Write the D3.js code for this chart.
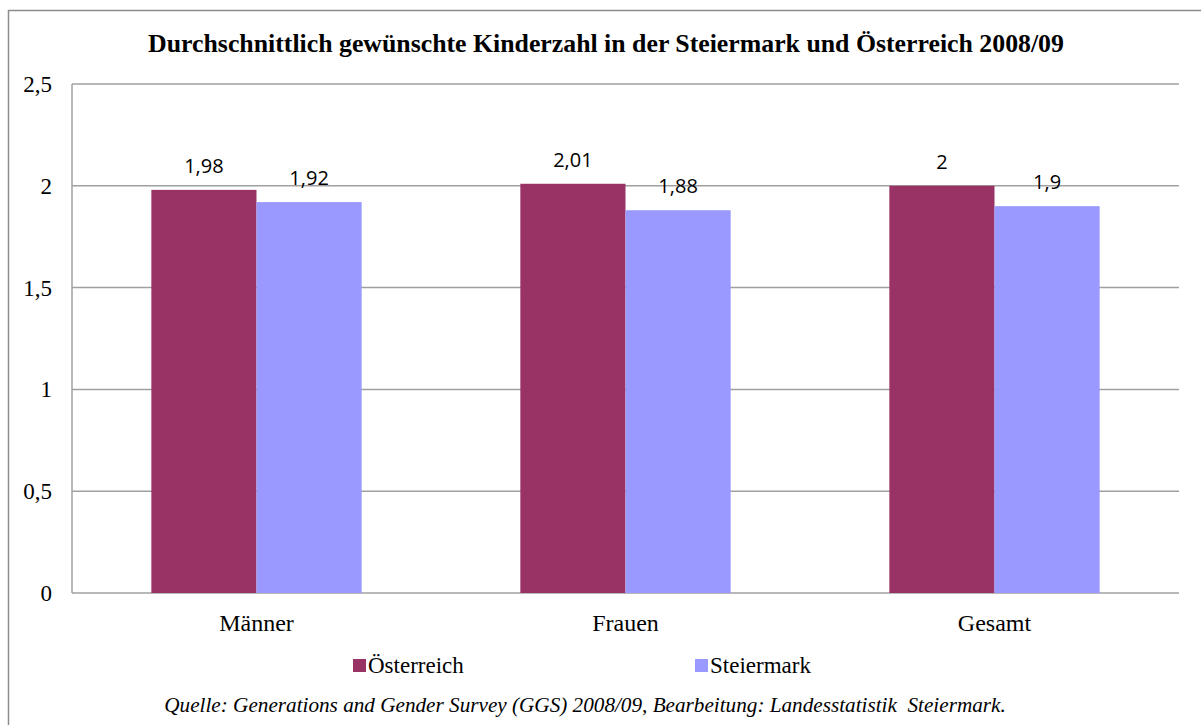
<!DOCTYPE html>
<html>
<head>
<meta charset="utf-8">
<script src="https://cdn.jsdelivr.net/npm/d3@7"></script>
<style>
  body { margin: 0; background: #fff; }
</style>
</head>
<body>
<div id="chart"></div>
<script>
// data
const categories = ["Männer", "Frauen", "Gesamt"];
const seriesNames = ["Österreich", "Steiermark"];
const oesterreich = [1.98, 2.01, 2];
const steiermark = [1.92, 1.88, 1.9];
const yTicks = [0, 0.5, 1, 1.5, 2, 2.5];
const colors = ["#993366", "#9999ff"];

const W = 1201, H = 725;
const margin = { top: 84, right: 22, bottom: 132, left: 72 },
  width = W - margin.left - margin.right,
  height = H - margin.top - margin.bottom;

const serif = "'Liberation Serif', 'Times New Roman', serif";
const fmt = v => String(v).replace(".", ",");

const svg = d3.select("#chart")
  .append("svg")
  .attr("width", W)
  .attr("height", H);

// outer frame
svg.append("rect")
  .attr("x", 8.5).attr("y", 10.5)
  .attr("width", W).attr("height", H)
  .attr("fill", "none")
  .attr("stroke", "#8c8c8c")
  .attr("stroke-width", 1.5);

svg.append("text")
  .attr("x", 606)
  .attr("y", 52)
  .attr("text-anchor", "middle")
  .style("font-family", serif)
  .style("font-weight", "bold")
  .style("font-size", "25.8px")
  .text("Durchschnittlich gewünschte Kinderzahl in der Steiermark und Österreich 2008/09");

const g = svg.append("g")
  .attr("transform", "translate(" + margin.left + "," + margin.top + ")");

const x0 = d3.scaleBand()
  .domain(categories)
  .range([0, width])
  .paddingInner(0.43)
  .paddingOuter(0.215);

const x1 = d3.scaleBand()
  .domain(seriesNames)
  .range([0, x0.bandwidth()]);

const y = d3.scaleLinear()
  .domain([0, 2.5])
  .range([height, 0]);

// gridlines
g.selectAll(".grid")
  .data(yTicks)
  .join("line")
  .attr("class", "grid")
  .attr("x1", 0)
  .attr("x2", width)
  .attr("y1", d => y(d))
  .attr("y2", d => y(d))
  .attr("stroke", "#a0a0a0")
  .attr("stroke-width", 1.5);

// y axis line
g.append("line")
  .attr("x1", 0).attr("x2", 0)
  .attr("y1", 0).attr("y2", height)
  .attr("stroke", "#a0a0a0")
  .attr("stroke-width", 1.5);

// y labels
g.selectAll(".ylab")
  .data(yTicks)
  .join("text")
  .attr("class", "ylab")
  .attr("x", -20)
  .attr("y", d => y(d))
  .attr("dy", "0.35em")
  .attr("text-anchor", "end")
  .style("font-family", serif)
  .style("font-size", "23px")
  .text(fmt);

const rows = categories.map((c, i) => ({
  cat: c,
  vals: [
    { name: seriesNames[0], v: oesterreich[i] },
    { name: seriesNames[1], v: steiermark[i] }
  ]
}));

const groups = g.selectAll(".cat")
  .data(rows)
  .join("g")
  .attr("class", "cat")
  .attr("transform", d => "translate(" + x0(d.cat) + ",0)");

groups.selectAll("rect")
  .data(d => d.vals)
  .join("rect")
  .attr("x", d => x1(d.name))
  .attr("y", d => y(d.v))
  .attr("width", x1.bandwidth())
  .attr("height", d => height - y(d.v))
  .attr("fill", (d, i) => colors[i]);

groups.selectAll(".val")
  .data(d => d.vals)
  .join("text")
  .attr("class", "val")
  .attr("x", d => x1(d.name) + x1.bandwidth() / 2)
  .attr("y", d => y(d.v) - 17)
  .attr("text-anchor", "middle")
  .style("font-family", "'Open Sans', sans-serif")
  .style("font-size", "20px")
  .text(d => fmt(d.v));

// category labels
g.selectAll(".xlab")
  .data(categories)
  .join("text")
  .attr("class", "xlab")
  .attr("x", d => x0(d) + x0.bandwidth() / 2)
  .attr("y", height + 38)
  .attr("text-anchor", "middle")
  .style("font-family", serif)
  .style("font-size", "24px")
  .text(d => d);

// legend
const legend = svg.append("g")
  .attr("transform", "translate(353,659)");

const item = legend.selectAll(".leg")
  .data(seriesNames)
  .join("g")
  .attr("class", "leg")
  .attr("transform", (d, i) => "translate(" + i * 342 + ",0)");

item.append("rect")
  .attr("width", 13)
  .attr("height", 13)
  .attr("fill", (d, i) => colors[i]);

item.append("text")
  .attr("x", 15)
  .attr("y", 14)
  .style("font-family", serif)
  .style("font-size", "23px")
  .text(d => d);

svg.append("text")
  .attr("x", 585)
  .attr("y", 712)
  .attr("text-anchor", "middle")
  .attr("xml:space", "preserve")
  .style("font-family", serif)
  .style("font-style", "italic")
  .style("font-size", "21.2px")
  .text("Quelle: Generations and Gender Survey (GGS) 2008/09, Bearbeitung: Landesstatistik  Steiermark.");
</script>
</body>
</html>
